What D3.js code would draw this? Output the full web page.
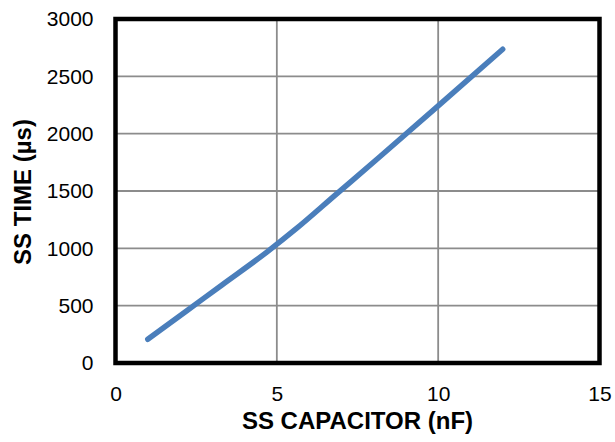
<!DOCTYPE html>
<html>
<head>
<meta charset="utf-8">
<script src="https://cdn.jsdelivr.net/npm/d3@7"></script>
<style>
  body { margin: 0; background: #fff; }
  text { font-family: "Liberation Sans", Arial, sans-serif; }
</style>
</head>
<body>
<svg id="chart" width="615" height="442"></svg>
<script>
// podaci ocitani sa slike
var capacitor = [1, 2.2, 3.3, 4.7, 5.6, 6.8, 8.2, 10, 12];
var ssTime = [207, 454, 681, 969, 1171, 1462, 1801, 2242, 2736];
var xTicks = [0, 5, 10, 15];
var yTicks = [0, 500, 1000, 1500, 2000, 2500, 3000];

var svg = d3.select("#chart");
var plotLeft = 115.5, plotRight = 599.5, plotTop = 19, plotBottom = 363;

var x = d3.scaleLinear().domain([0, 15]).range([plotLeft, plotRight]);
var y = d3.scaleLinear().domain([0, 3000]).range([plotBottom, plotTop]);

// mreza
svg.append("g")
  .selectAll("line")
  .data(yTicks)
  .enter().append("line")
  .attr("x1", plotLeft).attr("x2", plotRight)
  .attr("y1", function(d) { return y(d); })
  .attr("y2", function(d) { return y(d); })
  .attr("stroke", "#8c8c8c")
  .attr("stroke-width", 1.8);

svg.append("g")
  .selectAll("line")
  .data(xTicks)
  .enter().append("line")
  .attr("y1", plotTop).attr("y2", plotBottom)
  .attr("x1", function(d) { return x(d); })
  .attr("x2", function(d) { return x(d); })
  .attr("stroke", "#8c8c8c")
  .attr("stroke-width", 1.8);

// okvir
svg.append("rect")
  .attr("x", plotLeft).attr("y", plotTop)
  .attr("width", plotRight - plotLeft).attr("height", plotBottom - plotTop)
  .attr("fill", "none")
  .attr("stroke", "black")
  .attr("stroke-width", 4.5);

// ose (samo tekst)
var xAxis = svg.append("g")
  .attr("transform", "translate(0," + plotBottom + ")")
  .call(d3.axisBottom(x).tickValues(xTicks).tickSize(0).tickPadding(23));
var yAxis = svg.append("g")
  .attr("transform", "translate(" + plotLeft + ",0)")
  .call(d3.axisLeft(y).tickValues(yTicks).tickSize(0).tickPadding(22).tickFormat(d3.format("d")));

[xAxis, yAxis].forEach(function(a) {
  a.select(".domain").remove();
  a.attr("font-size", 21).attr("font-family", "Liberation Sans, Arial, sans-serif");
  a.selectAll("text").attr("fill", "#000");
});

// linija
var line = d3.line()
  .x(function(d, i) { return x(capacitor[i]); })
  .y(function(d) { return y(d); })
  .curve(d3.curveMonotoneX);

svg.append("path")
  .datum(ssTime)
  .attr("d", line)
  .attr("fill", "none")
  .attr("stroke", "#4a7ebb")
  .attr("stroke-width", 5.5)
  .attr("stroke-linecap", "round");

// naslovi osa
svg.append("text")
  .attr("x", (plotLeft + plotRight) / 2)
  .attr("y", 429)
  .attr("text-anchor", "middle")
  .attr("font-size", 24)
  .attr("font-weight", "bold")
  .text("SS CAPACITOR (nF)");

svg.append("text")
  .attr("transform", "translate(30.5,192) rotate(-90)")
  .attr("text-anchor", "middle")
  .attr("font-size", 24)
  .attr("font-weight", "bold")
  .text("SS TIME (µs)");
</script>
</body>
</html>
